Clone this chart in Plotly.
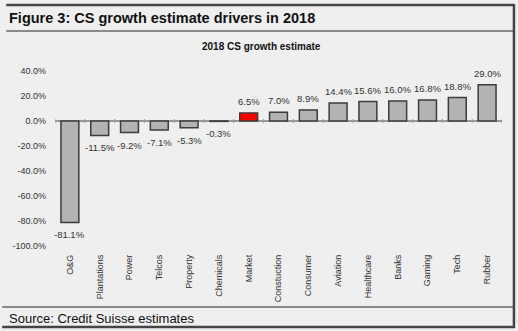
import plotly.graph_objects as go

categories = ["O&G", "Plantations", "Power", "Telcos", "Property", "Chemicals", "Market",
              "Constuction", "Consumer", "Aviation", "Healthcare", "Banks", "Gaming", "Tech", "Rubber"]
growth = [-81.1, -11.5, -9.2, -7.1, -5.3, -0.3, 6.5, 7.0, 8.9, 14.4, 15.6, 16.0, 16.8, 18.8, 29.0]
y_ticks = [40, 20, 0, -20, -40, -60, -80, -100]

W, H = 518, 331
L, R, T, B = 53, 16, 71, 85
PW, PH = W - L - R, H - T - B

def px(x):
    return (x - L) / PW

def py(y):
    return (H - B - y) / PH

BG = "#efefef"
colors = ["#ff0000" if c == "Market" else "#b3b3b3" for c in categories]

fig = go.Figure()
fig.add_trace(go.Bar(
    x=categories, y=growth,
    marker=dict(color=colors, line=dict(color="#3c3c3c", width=1.5)),
    width=0.6,
    cliponaxis=False,
))

shapes = []
for i in range(len(categories) + 1):
    shapes.append(dict(type="line", xref="x", yref="y", x0=i - 0.5, x1=i - 0.5, y0=-1.6, y1=1.6,
                       line=dict(color="#999999", width=1)))

def hline(y, x0, x1, color, w):
    shapes.append(dict(type="line", xref="paper", yref="paper", x0=px(x0), x1=px(x1),
                       y0=py(y), y1=py(y), line=dict(color=color, width=w)))

def vline(x, y0, y1, color, w):
    shapes.append(dict(type="line", xref="paper", yref="paper", x0=px(x), x1=px(x),
                       y0=py(y0), y1=py(y1), line=dict(color=color, width=w)))

hline(5, 4, 514, "#444444", 2.5)
hline(31, 4, 513, "#8a8a8a", 2)
hline(307, 0, 513, "#8a8a8a", 2)
hline(327, 0, 515, "#444444", 2.5)
vline(514, 4, 328, "#444444", 2.5)

annotations = [
    dict(text="<b>Figure 3: CS growth estimate drivers in 2018</b>", xref="paper", yref="paper",
         x=px(5), y=py(18), xanchor="left", yanchor="middle", showarrow=False,
         font=dict(family="Liberation Sans, Arial", size=14.5, color="#111111")),
    dict(text="<b>2018 CS growth estimate</b>", xref="paper", yref="paper",
         x=px(260), y=py(47), xanchor="center", yanchor="middle", showarrow=False,
         font=dict(family="Liberation Sans, Arial", size=10, color="#111111")),
    dict(text="Source: Credit Suisse estimates", xref="paper", yref="paper",
         x=px(5), y=py(318), xanchor="left", yanchor="middle", showarrow=False,
         font=dict(family="Liberation Sans, Arial", size=13, color="#111111")),
]
for c, v in zip(categories, growth):
    annotations.append(dict(
        text=f"{v:.1f}%", x=c, y=v, xref="x", yref="y", showarrow=False,
        yanchor="bottom" if v >= 0 else "top", yshift=4 if v >= 0 else -5,
        font=dict(family="Liberation Sans, Arial", size=9.5, color="#333333")))

fig.update_layout(
    width=W, height=H,
    margin=dict(l=L, r=R, t=T, b=B, pad=0),
    paper_bgcolor=BG, plot_bgcolor=BG,
    showlegend=False,
    shapes=shapes,
    annotations=annotations,
    xaxis=dict(range=[-0.5, len(categories) - 0.5], showline=False, showgrid=False, ticks="",
               tickangle=-90, tickfont=dict(family="Liberation Sans, Arial", size=9, color="#333333"),
               ticklabelstandoff=6),
    yaxis=dict(range=[-100, 40], tickvals=y_ticks, ticktext=[f"{v:.1f}%" for v in y_ticks],
               showgrid=False, showline=False, zeroline=True, zerolinecolor="#999999", zerolinewidth=1.5,
               tickfont=dict(family="Liberation Sans, Arial", size=9, color="#333333"), ticks="",
               ticklabelstandoff=8),
)

fig.write_html("out.html")
